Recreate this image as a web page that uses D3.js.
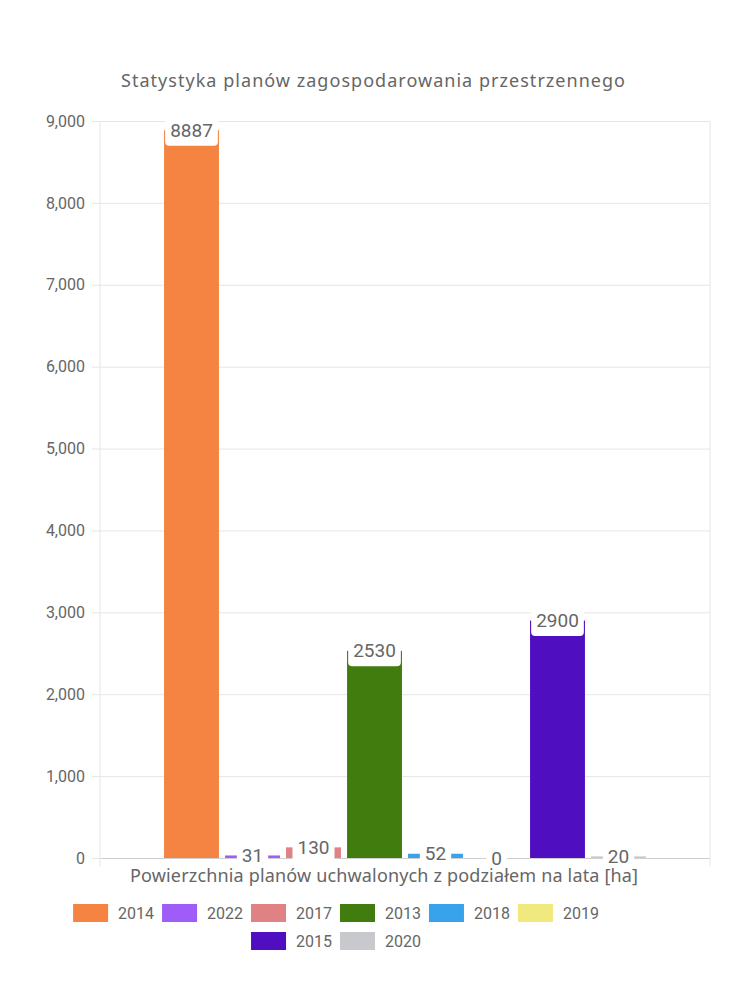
<!DOCTYPE html>
<html>
<head>
<meta charset="utf-8">
<script src="https://cdn.jsdelivr.net/npm/d3@7"></script>
<style>
  body { margin: 0; background: #fff; }
  svg { display: block; }
  text { fill: #666; }
</style>
</head>
<body>
<svg id="chart" width="750" height="1000"></svg>
<script>
  // values
  var years = ["2014", "2022", "2017", "2013", "2018", "2019", "2015", "2020"];
  var areas = [8887, 31, 130, 2530, 52, 0, 2900, 20];
  var barColors = ["#f58442", "#a05cf9", "#e08283", "#417c0e", "#38a2ea", "#f0ea7e", "#4f0ec0", "#c8c9cc"];
  var yTicks = [0, 1000, 2000, 3000, 4000, 5000, 6000, 7000, 8000, 9000];
  var categories = [""];
  var titleText = "Statystyka planów zagospodarowania przestrzennego";
  var xTitleText = "Powierzchnia planów uchwalonych z podziałem na lata [ha]";

  // (window.top is taken, so plot edges get their own names)
  var plotLeft = 100, plotRight = 710, plotTop = 121, plotBottom = 858;
  var svg = d3.select("#chart");

  var y = d3.scaleLinear().domain([0, 9000]).range([plotBottom, plotTop]);
  var x0 = d3.scaleBand().domain(categories).range([plotLeft, plotRight])
    .paddingInner(0).paddingOuter(0.125);
  var x1 = d3.scaleBand().domain(years).range([0, x0.bandwidth()])
    .paddingInner(0.1).paddingOuter(0.05);

  // title
  svg.append("text")
    .attr("x", 373).attr("y", 87)
    .attr("text-anchor", "middle")
    .attr("textLength", 504).attr("lengthAdjust", "spacing")
    .style("font-family", "Noto Sans").style("font-size", "18px")
    .text(titleText);

  // horizontal grid
  svg.append("g")
    .attr("transform", "translate(" + plotLeft + ",0)")
    .call(d3.axisLeft(y).tickValues(yTicks).tickSize(-(plotRight - plotLeft)).tickFormat(""))
    .call(function(g) {
      g.select(".domain").remove();
      g.selectAll("line").attr("stroke", function(d) { return d === 0 ? "#cfcfcf" : "#e6e6e6"; });
    });

  // y axis ticks + labels
  svg.append("g")
    .attr("transform", "translate(" + plotLeft + ",0)")
    .call(d3.axisLeft(y).tickValues(yTicks).tickSize(8).tickPadding(7).tickFormat(d3.format(",")))
    .call(function(g) {
      g.select(".domain").remove();
      g.selectAll("line").attr("stroke", "#e6e6e6");
      g.selectAll("text")
        .style("font-family", "Roboto").style("font-size", "16px").attr("fill", "#666");
    });

  // vertical edge lines of the category
  svg.append("g").selectAll("line")
    .data([plotLeft, plotRight])
    .enter().append("line")
    .attr("x1", function(d) { return d; }).attr("x2", function(d) { return d; })
    .attr("y1", plotTop).attr("y2", plotBottom + 8)
    .attr("stroke", "#e6e6e6");

  // bars
  var groups = svg.append("g").selectAll("g")
    .data(categories)
    .enter().append("g")
    .attr("transform", function(d) { return "translate(" + x0(d) + ",0)"; });

  groups.selectAll("rect")
    .data(years.map(function(yr, i) { return { year: yr, value: areas[i], color: barColors[i] }; }))
    .enter().append("rect")
    .attr("x", function(d) { return x1(d.year); })
    .attr("y", function(d) { return y(d.value); })
    .attr("width", x1.bandwidth())
    .attr("height", function(d) { return y(0) - y(d.value); })
    .attr("fill", function(d) { return d.color; });

  // value labels in white boxes, centred on the bar top
  var labels = groups.selectAll("g.lbl")
    .data(years.map(function(yr, i) { return { year: yr, value: areas[i] }; }))
    .enter().append("g")
    .attr("class", "lbl")
    .attr("transform", function(d) {
      return "translate(" + (x1(d.year) + x1.bandwidth() / 2) + "," + y(d.value) + ")";
    });

  labels.append("text")
    .attr("text-anchor", "middle")
    .attr("dy", "0.35em")
    .style("font-family", "Roboto").style("font-size", "19px")
    .text(function(d) { return d.value; });

  labels.each(function() {
    var g = d3.select(this);
    var w = g.select("text").node().getComputedTextLength();
    var h = 19 * 1.2 + 8;
    g.insert("rect", "text")
      .attr("x", -w / 2 - 5).attr("y", -h / 2)
      .attr("width", w + 10).attr("height", h)
      .attr("rx", 4).attr("fill", "#fff");
  });

  // x axis title
  svg.append("text")
    .attr("x", 384).attr("y", 882)
    .attr("text-anchor", "middle")
    .attr("textLength", 508).attr("lengthAdjust", "spacing")
    .style("font-family", "Noto Sans").style("font-size", "18px")
    .text(xTitleText);

  // legend, two centred rows
  var legendRows = [years.slice(0, 6), years.slice(6)];
  var boxW = 35, boxH = 18, legendCenter = 336, itemGap = 8;
  legendRows.forEach(function(row, r) {
    var rowY = 913 + r * 28;
    var lg = svg.append("g");
    var items = lg.selectAll("g")
      .data(row)
      .enter().append("g");
    items.append("rect")
      .attr("width", boxW).attr("height", boxH)
      .attr("y", rowY - boxH / 2)
      .attr("fill", function(d) { return barColors[years.indexOf(d)]; });
    items.append("text")
      .attr("x", boxW + 10).attr("y", rowY)
      .attr("dy", "0.35em")
      .style("font-family", "Roboto").style("font-size", "16px")
      .text(function(d) { return d; });
    var widths = [];
    items.each(function() {
      widths.push(boxW + 10 + d3.select(this).select("text").node().getComputedTextLength());
    });
    var total = d3.sum(widths) + itemGap * (widths.length - 1);
    var cx = legendCenter - total / 2;
    items.attr("transform", function(d, i) {
      var pos = cx;
      cx += widths[i] + itemGap;
      return "translate(" + pos + ",0)";
    });
  });
</script>
</body>
</html>
